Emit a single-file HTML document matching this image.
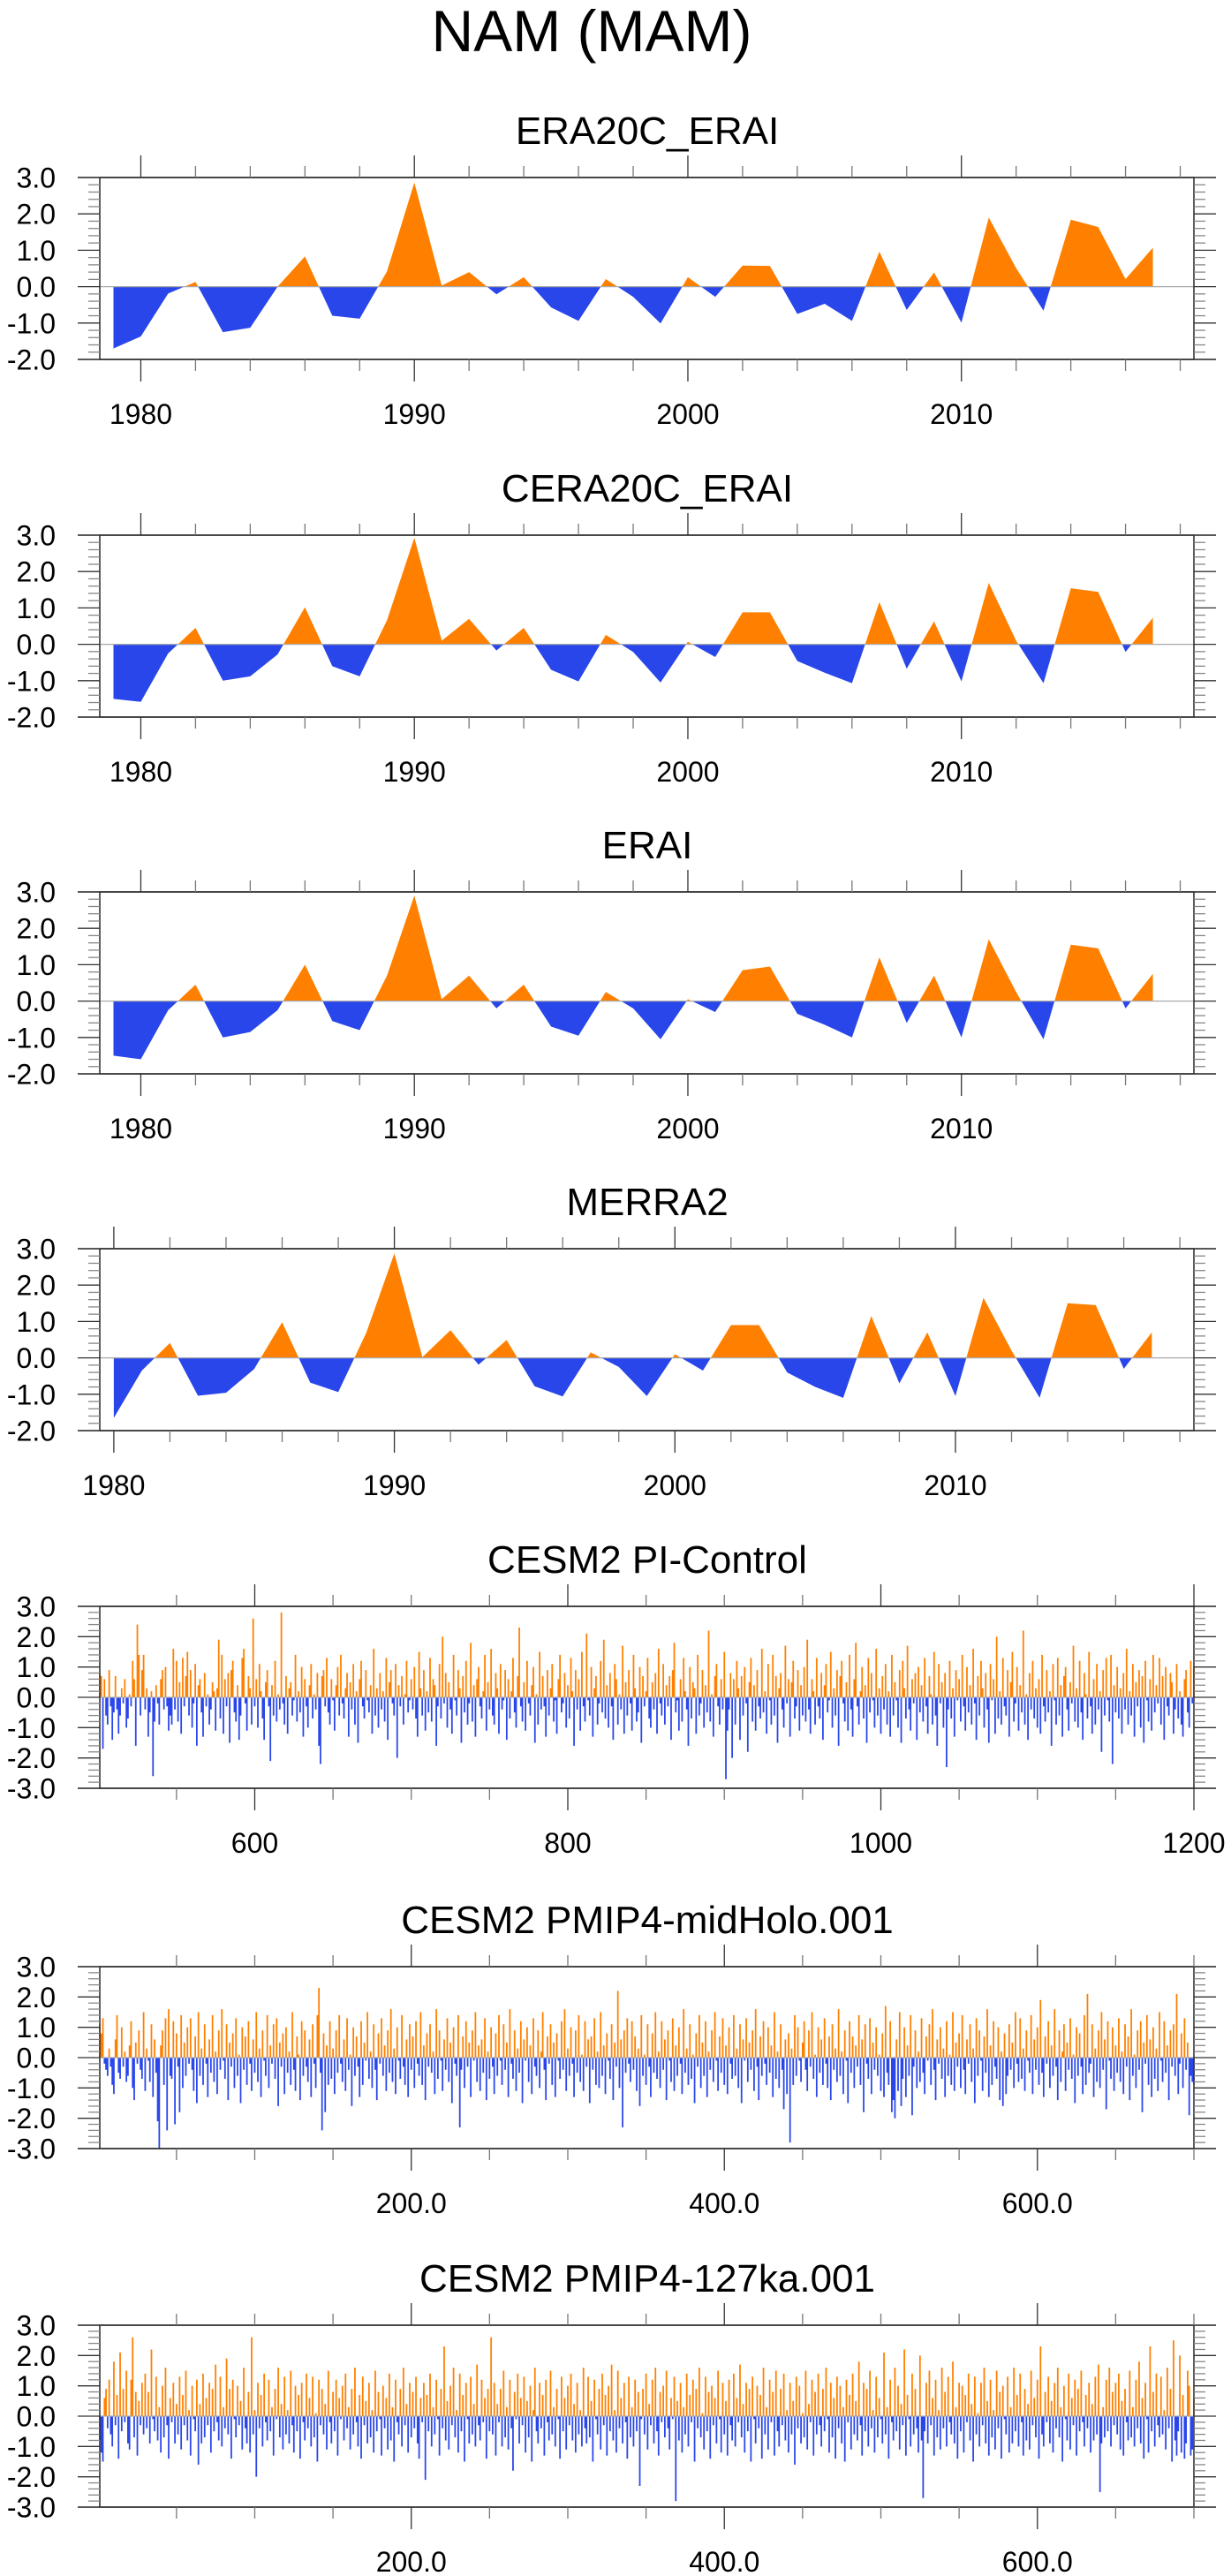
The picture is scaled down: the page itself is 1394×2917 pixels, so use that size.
<!DOCTYPE html>
<html><head><meta charset="utf-8"><title>NAM (MAM)</title>
<style>
html,body{margin:0;padding:0;background:#fff;}
svg{display:block;}
text{font-family:"Liberation Sans",sans-serif;fill:#000;}
</style></head>
<body>
<svg id="fig" xmlns="http://www.w3.org/2000/svg" width="1394" height="2917" viewBox="0 0 1394 2917">
<text x="670" y="58" font-size="66" text-anchor="middle">NAM (MAM)</text>
</svg>
<script>
// ---------- data (yearly reanalysis series) ----------
const era20cYears = [1979,1980,1981,1982,1983,1984,1985,1986,1987,1988,1989,1990,1991,1992,1993,1994,1995,1996,1997,1998,1999,2000,2001,2002,2003,2004,2005,2006,2007,2008,2009,2010,2011,2012,2013,2014,2015,2016,2017];
const era20cValues = [-1.7,-1.37,-0.19,0.13,-1.25,-1.13,0.0,0.83,-0.8,-0.88,0.42,2.86,0.03,0.4,-0.21,0.26,-0.57,-0.94,0.21,-0.28,-1.01,0.26,-0.28,0.58,0.57,-0.75,-0.47,-0.94,0.96,-0.64,0.39,-0.99,1.9,0.51,-0.66,1.84,1.64,0.21,1.07];
const cera20cYears = era20cYears;
const cera20cValues = [-1.5,-1.58,-0.25,0.45,-1.0,-0.88,-0.28,1.02,-0.6,-0.88,0.66,2.93,0.1,0.7,-0.17,0.45,-0.7,-1.02,0.26,-0.21,-1.05,0.07,-0.35,0.88,0.88,-0.46,-0.78,-1.07,1.16,-0.67,0.63,-1.02,1.69,0.1,-1.07,1.54,1.44,-0.21,0.73];
const eraiYears = era20cYears;
const eraiValues = [-1.5,-1.6,-0.25,0.45,-1.0,-0.85,-0.25,1.0,-0.55,-0.8,0.7,2.9,0.05,0.7,-0.2,0.45,-0.7,-0.95,0.25,-0.2,-1.05,0.05,-0.3,0.85,0.95,-0.35,-0.65,-1.0,1.2,-0.6,0.7,-1.0,1.7,0.25,-1.05,1.55,1.45,-0.2,0.75];
const merra2Years = [1980,1981,1982,1983,1984,1985,1986,1987,1988,1989,1990,1991,1992,1993,1994,1995,1996,1997,1998,1999,2000,2001,2002,2003,2004,2005,2006,2007,2008,2009,2010,2011,2012,2013,2014,2015,2016,2017];
const merra2Values = [-1.65,-0.35,0.41,-1.04,-0.96,-0.31,0.98,-0.68,-0.94,0.69,2.87,0.02,0.76,-0.19,0.49,-0.78,-1.06,0.15,-0.25,-1.05,0.1,-0.35,0.9,0.9,-0.4,-0.8,-1.1,1.15,-0.7,0.7,-1.05,1.65,0.2,-1.1,1.5,1.45,-0.3,0.7];

// ---------- data (model runs, values in tenths of a unit, one per year) ----------
const piControlStartYear = 501;
const piControlTenths = [
8,7,-17,6,-6,-9,9,-3,-14,-5,7,-4,-12,-6,3,-2,6,-10,-7,1,-3,12,6,-16,24,14,-6,9,14,-4,3,-13,-5,2,-26,-8,4,-2,-9,6,9,-4,10,-3,-11,-6,-9,16,-4,12,
-8,5,-12,13,-3,7,15,-6,9,-10,-2,11,-16,4,6,-5,-13,8,-3,1,-9,-4,5,2,-11,3,19,-7,14,-12,6,-3,8,-15,9,12,-5,-8,4,-14,-6,13,16,-2,-11,7,3,-9,26,-3,
6,-10,11,2,-7,-14,5,9,-3,-21,4,-6,12,-8,1,-4,28,-2,-9,7,-12,3,5,-6,-1,14,-8,2,-5,10,-13,6,-3,-10,4,11,-7,1,-4,8,-16,-22,7,9,-3,13,-5,-9,6,-1,
-11,4,10,-6,14,-2,-7,3,8,-13,5,-4,11,-9,2,-15,6,12,-3,-7,9,-1,-5,4,-12,16,-6,3,-10,8,-4,2,-8,13,-14,5,9,-2,-6,11,-20,4,-3,7,-9,1,12,-5,-1,6,
-4,10,-7,-13,15,3,-6,9,-11,2,-5,13,-8,6,4,-16,-3,11,-7,20,-2,8,-10,5,-4,-12,14,-1,-6,9,3,-15,7,-5,12,-9,-2,18,-8,4,-13,6,10,-3,-7,2,14,-11,5,-4,
16,-6,-9,8,3,-12,11,-4,-1,9,-14,6,-7,2,13,-5,-10,7,23,-3,-8,5,-11,12,-2,-6,4,10,-15,1,-9,15,-4,7,-3,-13,9,-6,3,11,-8,-1,-12,6,14,-5,-2,8,-10,4,
-7,13,2,-16,9,-4,6,-11,15,-3,-8,21,-1,-6,10,-13,3,7,-9,-2,12,-5,19,-7,4,-10,8,-3,-14,11,6,-9,1,-4,17,-12,5,-6,9,-2,-11,14,3,-8,-5,10,-15,7,-3,2,
13,-7,-10,5,-4,8,-12,16,-2,-6,11,-9,4,-3,7,-14,9,18,-5,-1,-11,6,-8,13,2,-4,-16,10,-7,5,3,-12,14,-6,-2,9,-10,4,-5,22,-8,1,-13,7,11,-3,-9,6,-4,15,
-27,-11,-4,8,-20,6,-9,12,3,-14,7,-6,10,-2,-18,5,13,-8,4,-11,9,-3,-7,16,-5,2,-12,11,-1,-9,14,-6,7,-15,3,8,-4,-10,17,-2,6,-13,5,12,-7,-3,9,-11,4,-6,
10,-8,19,-4,-12,6,2,-9,13,-3,-7,8,-14,4,11,-5,-1,15,-10,3,-6,9,-16,7,12,-2,-8,5,-11,14,-4,-13,6,18,-3,-9,2,10,-7,4,-15,13,-5,8,-1,-10,16,-6,3,-12,
7,-4,11,-9,2,-13,14,-6,5,-1,-10,9,-15,12,3,-7,17,-4,-11,6,-2,8,-14,10,-5,4,-8,13,-3,-12,7,1,-9,15,-6,-16,11,-2,5,-10,8,-23,-4,12,-7,3,-13,9,-1,6,
-8,14,-3,-11,10,-5,4,-9,16,-2,-14,7,-6,12,3,-10,8,-4,-15,11,-1,6,-12,20,-7,2,-9,13,-3,-6,9,-13,5,15,-8,-2,10,-11,4,-5,22,-9,1,-14,8,-4,12,-7,3,-10,
6,-12,14,-3,-8,9,-5,2,-16,11,-1,-9,13,-6,4,-13,7,10,-4,-11,5,-2,17,-8,3,-10,12,-5,-14,8,1,-7,15,-3,-12,6,-9,11,-4,2,-18,9,-6,13,-1,-8,14,-22,4,-5,
10,-7,3,-12,8,-4,16,-9,2,-6,11,-13,5,-3,9,-10,7,-15,12,-1,-8,6,-11,14,-5,4,-2,13,-9,7,-14,10,-3,-6,8,5,-12,-4,11,-7,2,-9,-13,6,9,-5,-10,12,-2,10
];
const midHoloStartYear = 1;
const midHoloTenths = [
11,8,13,-2,-4,-6,3,-3,-9,-12,6,14,-5,-7,10,-3,2,-8,-6,4,12,-10,-14,5,-2,9,-4,-7,15,-11,3,-1,-8,11,-13,6,-5,-21,-30,4,9,-9,13,-24,16,-6,-7,12,-22,8,
-3,-18,14,-10,5,-6,10,-2,13,-4,-11,7,-15,15,-6,3,-9,11,-2,-13,6,-5,14,-8,2,-12,9,-4,16,-1,-7,11,-14,5,-3,8,-10,13,-6,1,-15,10,-4,7,-9,12,-2,-11,6,-5,
15,-8,3,-13,9,-1,-6,14,-10,4,-2,11,-7,13,-16,5,-3,8,-12,10,-5,2,-9,15,-4,-11,7,1,-14,12,-6,9,-3,-8,6,-13,11,-2,-10,14,23,-5,-24,8,-18,4,-9,12,-7,3,
-12,9,-5,14,-2,-8,6,-11,13,-4,1,-16,10,-6,7,-3,-13,12,-9,5,-1,15,-7,2,-10,11,-4,-14,8,-2,13,-6,4,-11,9,-5,16,-8,3,-12,10,-1,-7,14,-3,-9,6,-13,11,-4,
7,-10,12,-2,-6,15,-9,4,-14,8,-3,11,-5,2,-12,16,-7,9,-1,-11,6,-4,13,-8,5,-15,10,-2,-6,14,-23,-4,7,-10,12,-3,5,-13,9,-1,15,-8,4,-11,6,-5,13,-14,2,-7,
10,-3,-12,8,-6,14,-1,-9,11,-4,5,-13,16,-2,-7,9,-11,3,-5,12,-15,6,-1,10,-8,4,-12,13,-3,-6,9,-10,2,15,-4,-14,7,-2,11,-9,5,-13,8,-1,-7,12,-4,16,-11,3,
-6,10,-2,-13,9,-5,14,-8,1,-11,12,-3,6,-15,7,-4,13,-9,2,-10,15,-6,4,-12,8,-1,-7,11,-14,5,-3,22,-10,6,-23,9,-5,13,-2,-8,12,-4,7,-11,3,-16,14,-6,1,-9,
11,-3,-13,8,-5,15,-7,2,-10,12,-4,6,-14,9,-1,-8,13,-11,4,-6,10,-2,-12,16,-5,3,-9,11,-7,1,-15,8,-3,14,-10,5,-6,12,-13,2,-4,9,-8,15,-1,-11,7,-5,13,-9,
4,-12,10,-2,-7,14,-6,3,-10,11,-15,6,-1,13,-8,5,-4,9,-11,16,-3,-14,7,-6,12,-2,-9,10,-5,4,-13,15,-7,2,-10,11,-4,-17,6,-12,8,-28,3,-9,14,-6,10,-1,-8,5,
12,-4,-11,9,-3,15,-7,1,-13,10,-5,6,-9,13,-2,-10,7,-14,11,-4,3,-8,16,-6,2,-12,9,-1,-15,12,-5,7,-10,4,-3,14,-9,6,-18,11,-2,-7,13,-12,5,-4,10,-6,1,-11,
8,-13,17,-5,-9,12,-18,-14,-20,6,-11,15,-16,-7,10,-13,4,-6,14,-19,-3,9,-10,2,-8,13,-5,-12,7,-1,11,-9,16,-4,-14,6,-2,10,-7,3,-13,12,-6,1,-9,15,-11,5,-3,8,
-10,14,-4,-12,6,-2,11,-8,3,-15,13,-6,9,-1,-11,7,-5,16,-13,4,-9,12,-3,-7,10,-14,2,-16,8,-12,-6,11,-4,5,-10,15,-2,-8,13,-7,3,-11,9,-1,-5,14,-12,6,-4,10,
-9,19,-5,-13,7,-2,12,-10,4,-6,16,-3,-14,9,-8,2,11,-11,5,-4,13,-7,1,-15,10,-6,8,-3,-12,14,-9,21,-5,-2,11,-13,3,-8,9,-10,15,-4,6,-17,12,-1,-7,10,-11,4,
-5,13,-8,2,-12,11,-3,7,-14,16,-6,1,-10,9,-4,12,-18,5,-2,14,-9,6,-13,10,-7,3,-11,15,-1,-8,12,-5,4,-14,9,-3,11,-6,21,-12,-2,8,-10,13,-4,5,-19,-6,-8,-9
];
const ka127StartYear = 1;
const ka127Tenths = [
-8,-12,-15,6,9,-4,12,-6,-10,18,-3,7,-14,21,-5,9,-2,15,-9,-11,12,26,-7,8,-13,5,-3,11,-6,14,-4,8,-9,22,-1,-5,13,-8,3,-12,10,-7,16,-3,-14,6,-2,11,-9,4,
-6,13,-11,7,-3,15,-8,2,-13,10,-1,-5,12,-16,4,-9,14,-7,6,-3,11,-12,9,-5,17,-2,-8,13,-10,3,-4,19,-6,9,-14,12,-1,-7,10,-3,5,-11,16,-4,-9,8,-12,26,-6,2,
-20,11,-4,7,-10,14,-2,-8,12,-5,3,-13,9,-1,16,-7,4,-11,13,-6,2,-9,15,-3,-12,10,-5,7,-14,11,-2,-8,14,-4,6,-10,13,-7,1,-15,12,-3,9,-6,4,-11,15,-2,-9,8,
-5,12,-13,6,-1,10,-8,14,-4,3,-11,9,-6,16,-2,-10,7,-14,13,-3,5,-9,11,-7,2,-12,15,-5,8,-1,-13,10,-4,6,-11,14,-8,3,-15,12,-2,-6,9,-10,16,-3,4,-12,11,-7,
8,-4,13,-9,-14,6,-2,11,-21,7,-5,14,-10,3,-6,12,-1,-13,9,-4,23,-8,5,-11,10,-3,16,-7,2,-12,14,-5,7,-15,11,-1,-9,13,-6,4,-10,17,-3,-8,12,-2,6,-14,9,-5,
26,-6,11,-13,4,-2,9,-10,15,-7,3,-11,12,-4,-18,8,-1,14,-9,6,-3,13,-12,5,-7,10,-15,2,16,-5,-9,11,-4,7,-13,12,-2,-8,15,-6,3,-10,9,-1,-14,13,-5,6,-11,10,
-3,14,-8,4,-12,11,-6,2,-10,16,-4,-9,13,-7,5,-15,12,-1,-6,9,-11,14,-3,7,-13,10,-5,17,-8,2,-12,15,-4,6,-9,11,-2,-14,13,-7,3,-10,12,-5,8,-23,-1,9,-6,14,
-11,4,-3,12,-9,16,-5,-13,8,-2,10,-7,15,-4,-11,6,-1,13,-28,5,-8,11,-12,3,-6,14,-10,7,-2,12,-15,9,-4,16,-7,1,-11,13,-5,8,-14,10,-3,6,-9,15,-1,-12,11,-6,
5,-13,12,-3,-8,14,-10,6,-2,17,-7,4,-12,11,-5,9,-15,13,-1,-9,10,-4,7,-14,16,-6,3,-11,12,-2,8,-13,15,-5,-10,9,-3,14,-8,2,-12,11,-6,5,-16,13,-4,10,-9,1,
-7,15,-11,4,-2,12,-13,8,-6,14,-3,-10,9,-5,16,-1,-12,11,-7,6,-14,13,-4,10,-9,3,-15,12,-2,7,-11,14,-6,5,-8,18,-3,-13,11,-5,9,-10,15,-4,2,-12,13,-7,6,-1,
-9,21,-6,3,-14,12,-2,-8,16,-5,10,-11,4,-3,22,-13,7,-1,-10,14,-6,9,-4,-12,20,-8,-27,-5,11,-9,15,-3,6,-13,12,-7,2,-11,16,-4,8,-10,13,-2,-6,18,-9,3,-14,11,
-5,10,-12,7,-2,14,-8,4,-15,13,-6,1,-10,11,-3,16,-9,5,-13,12,-7,2,-11,15,-4,8,-14,10,-1,-6,13,-12,3,-9,16,-5,7,-10,14,-2,-13,9,-8,4,-11,15,-3,6,-7,12,
-14,23,-6,-10,8,-2,13,-9,5,-12,11,-4,16,-7,3,-15,10,-1,-8,14,-11,6,-3,12,-13,9,-5,15,-2,-10,7,-4,11,-12,4,-8,13,-6,17,-25,-9,3,-7,12,-5,16,-10,8,-3,11,
-6,14,-11,5,-13,9,-2,-8,15,-7,3,-10,12,-4,18,-9,6,-14,11,-1,-12,23,-5,8,-10,14,-3,-7,13,-6,2,-11,16,-4,9,-15,25,-8,-13,-5,20,-12,7,-14,-9,15,10,-13,-11,6
];

// ---------- layout helpers ----------
const NS = 'http://www.w3.org/2000/svg';
const svg = document.getElementById('fig');
const BOX_L = 113, BOX_R = 1352, BOX_H = 206;
const ORANGE = '#FF8000', BLUE = '#2946EA';

function mk(tag, attrs, parent) {
  const e = document.createElementNS(NS, tag);
  for (const k in attrs) e.setAttribute(k, attrs[k]);
  (parent || svg).appendChild(e);
  return e;
}

let clipCount = 0;
function drawPanel(p) {
  const g = mk('g', {});
  
  
  const top = p.top, bot = p.top + BOX_H;
  const xs = v => BOX_L + (v - p.xmin) / (p.xmax - p.xmin) * (BOX_R - BOX_L);
  const ys = v => top + (p.ymax - v) / (p.ymax - p.ymin) * BOX_H;
  const y0 = ys(0);

  // title
  const t = mk('text', {x: 733, y: top - 38, 'font-size': 44, 'text-anchor': 'middle'}, g);
  t.textContent = p.title;
  
  

  if (p.dense) {
    // one bar per year
    const w = (BOX_R - BOX_L) / (p.xmax - p.xmin);
    let dp = '', dn = '';
    for (let i = 0; i < p.v.length; i++) {
      const xl = xs(p.x[i]) - w / 2, yv = ys(p.v[i]);
      const seg = 'M' + xl.toFixed(2) + ',' + y0.toFixed(2) + 'V' + yv.toFixed(2) + 'h' + w.toFixed(2) + 'V' + y0.toFixed(2) + 'Z';
      if (p.v[i] >= 0) dp += seg; else dn += seg;
    }
    const pos = mk('path', {d: dp, fill: ORANGE}, g);
    
    
    const neg = mk('path', {d: dn, fill: BLUE}, g);
    
    
  } else {
    let d = 'M' + xs(p.x[0]).toFixed(2) + ',' + y0.toFixed(2);
    for (let i = 0; i < p.v.length; i++) d += 'L' + xs(p.x[i]).toFixed(2) + ',' + ys(p.v[i]).toFixed(2);
    d += 'L' + xs(p.x[p.v.length - 1]).toFixed(2) + ',' + y0.toFixed(2) + 'Z';
    const idA = 'cA' + (clipCount), idB = 'cB' + (clipCount++);
    const defs = mk('defs', {}, g);
    const cpA = mk('clipPath', {id: idA}, defs);
    mk('rect', {x: 0, y: top, width: 1394, height: y0 - top}, cpA);
    const cpB = mk('clipPath', {id: idB}, defs);
    mk('rect', {x: 0, y: y0, width: 1394, height: bot - y0}, cpB);
    const pos = mk('path', {d: d, fill: ORANGE, 'clip-path': 'url(#' + idA + ')'}, g);
    
    
    const neg = mk('path', {d: d, fill: BLUE, 'clip-path': 'url(#' + idB + ')'}, g);
    
    
  }
  // zero line
  const z = mk('line', {x1: BOX_L, x2: BOX_R, y1: y0, y2: y0, stroke: '#aaaaaa', 'stroke-width': 1.3}, g);
  
  

  // frame
  const fr = mk('rect', {x: BOX_L, y: top, width: BOX_R - BOX_L, height: BOX_H, fill: 'none', stroke: '#333', 'stroke-width': 1.6}, g);
  
  
  mk('line', {x1: 88, x2: 1377, y1: top, y2: top, stroke: '#333', 'stroke-width': 1.6}, g);
  mk('line', {x1: 88, x2: 1377, y1: bot, y2: bot, stroke: '#333', 'stroke-width': 1.6}, g);

  // y ticks
  const yax = mk('g', {}, g);
  
  
  for (let k = Math.round(p.ymin * 5); k <= Math.round(p.ymax * 5); k++) {
    const v = k / 5, y = ys(v);
    const major = k % 5 === 0;
    const len = major ? 25 : 13;
    mk('line', {x1: BOX_L - len, x2: BOX_L, y1: y, y2: y, stroke: major ? '#333' : '#888', 'stroke-width': 1.3}, yax);
    mk('line', {x1: BOX_R, x2: BOX_R + len, y1: y, y2: y, stroke: major ? '#333' : '#888', 'stroke-width': 1.3}, yax);
    if (major) {
      const lb = mk('text', {x: 63, y: y + 11.5, 'font-size': 32, 'text-anchor': 'end'}, yax);
      lb.textContent = v.toFixed(1);
      
      
    }
  }
  // x ticks
  const xax = mk('g', {}, g);
  
  
  for (let v = p.minorStart; v <= p.xmax + 1e-6; v += p.minorStep) {
    const x = xs(v);
    const major = p.majors.indexOf(v) >= 0;
    const len = major ? 25 : 13;
    mk('line', {x1: x, x2: x, y1: top - len, y2: top, stroke: major ? '#333' : '#777', 'stroke-width': 1.3}, xax);
    mk('line', {x1: x, x2: x, y1: bot, y2: bot + len, stroke: major ? '#333' : '#777', 'stroke-width': 1.3}, xax);
  }
  p.majors.forEach((v, i) => {
    const lb = mk('text', {x: xs(v), y: bot + 73, 'font-size': 32, 'text-anchor': 'middle'}, xax);
    lb.textContent = p.majorLabels[i];
    
    
  });
}

function seq(start, n) { const a = []; for (let i = 0; i < n; i++) a.push(start + i); return a; }
const tenths = a => a.map(v => v / 10);

const yearMajors = [1980, 1990, 2000, 2010];
const yearLabels = ['1980', '1990', '2000', '2010'];
const piMajors = [600, 800, 1000, 1200];
const piLabels = ['600', '800', '1000', '1200'];
const runMajors = [200, 400, 600];
const runLabels = ['200.0', '400.0', '600.0'];

drawPanel({name: 'era20c-erai', title: 'ERA20C_ERAI', top: 201, x: era20cYears, v: era20cValues, xmin: 1978.5, xmax: 2018.5, ymin: -2, ymax: 3, minorStart: 1980, minorStep: 2, majors: yearMajors, majorLabels: yearLabels});
drawPanel({name: 'cera20c-erai', title: 'CERA20C_ERAI', top: 606, x: cera20cYears, v: cera20cValues, xmin: 1978.5, xmax: 2018.5, ymin: -2, ymax: 3, minorStart: 1980, minorStep: 2, majors: yearMajors, majorLabels: yearLabels});
drawPanel({name: 'erai', title: 'ERAI', top: 1010, x: eraiYears, v: eraiValues, xmin: 1978.5, xmax: 2018.5, ymin: -2, ymax: 3, minorStart: 1980, minorStep: 2, majors: yearMajors, majorLabels: yearLabels});
drawPanel({name: 'merra2', title: 'MERRA2', top: 1414, x: merra2Years, v: merra2Values, xmin: 1979.5, xmax: 2018.5, ymin: -2, ymax: 3, minorStart: 1980, minorStep: 2, majors: yearMajors, majorLabels: yearLabels});
drawPanel({name: 'cesm2-pi-control', title: 'CESM2 PI-Control', top: 1819, dense: true, x: seq(piControlStartYear, piControlTenths.length), v: tenths(piControlTenths), xmin: 501, xmax: 1200, ymin: -3, ymax: 3, minorStart: 550, minorStep: 50, majors: piMajors, majorLabels: piLabels});
drawPanel({name: 'cesm2-midholo', title: 'CESM2 PMIP4-midHolo.001', top: 2227, dense: true, x: seq(midHoloStartYear, midHoloTenths.length), v: tenths(midHoloTenths), xmin: 1, xmax: 700, ymin: -3, ymax: 3, minorStart: 50, minorStep: 50, majors: runMajors, majorLabels: runLabels});
drawPanel({name: 'cesm2-127ka', title: 'CESM2 PMIP4-127ka.001', top: 2633, dense: true, x: seq(ka127StartYear, ka127Tenths.length), v: tenths(ka127Tenths), xmin: 1, xmax: 700, ymin: -3, ymax: 3, minorStart: 50, minorStep: 50, majors: runMajors, majorLabels: runLabels});
</script>
</body></html>
